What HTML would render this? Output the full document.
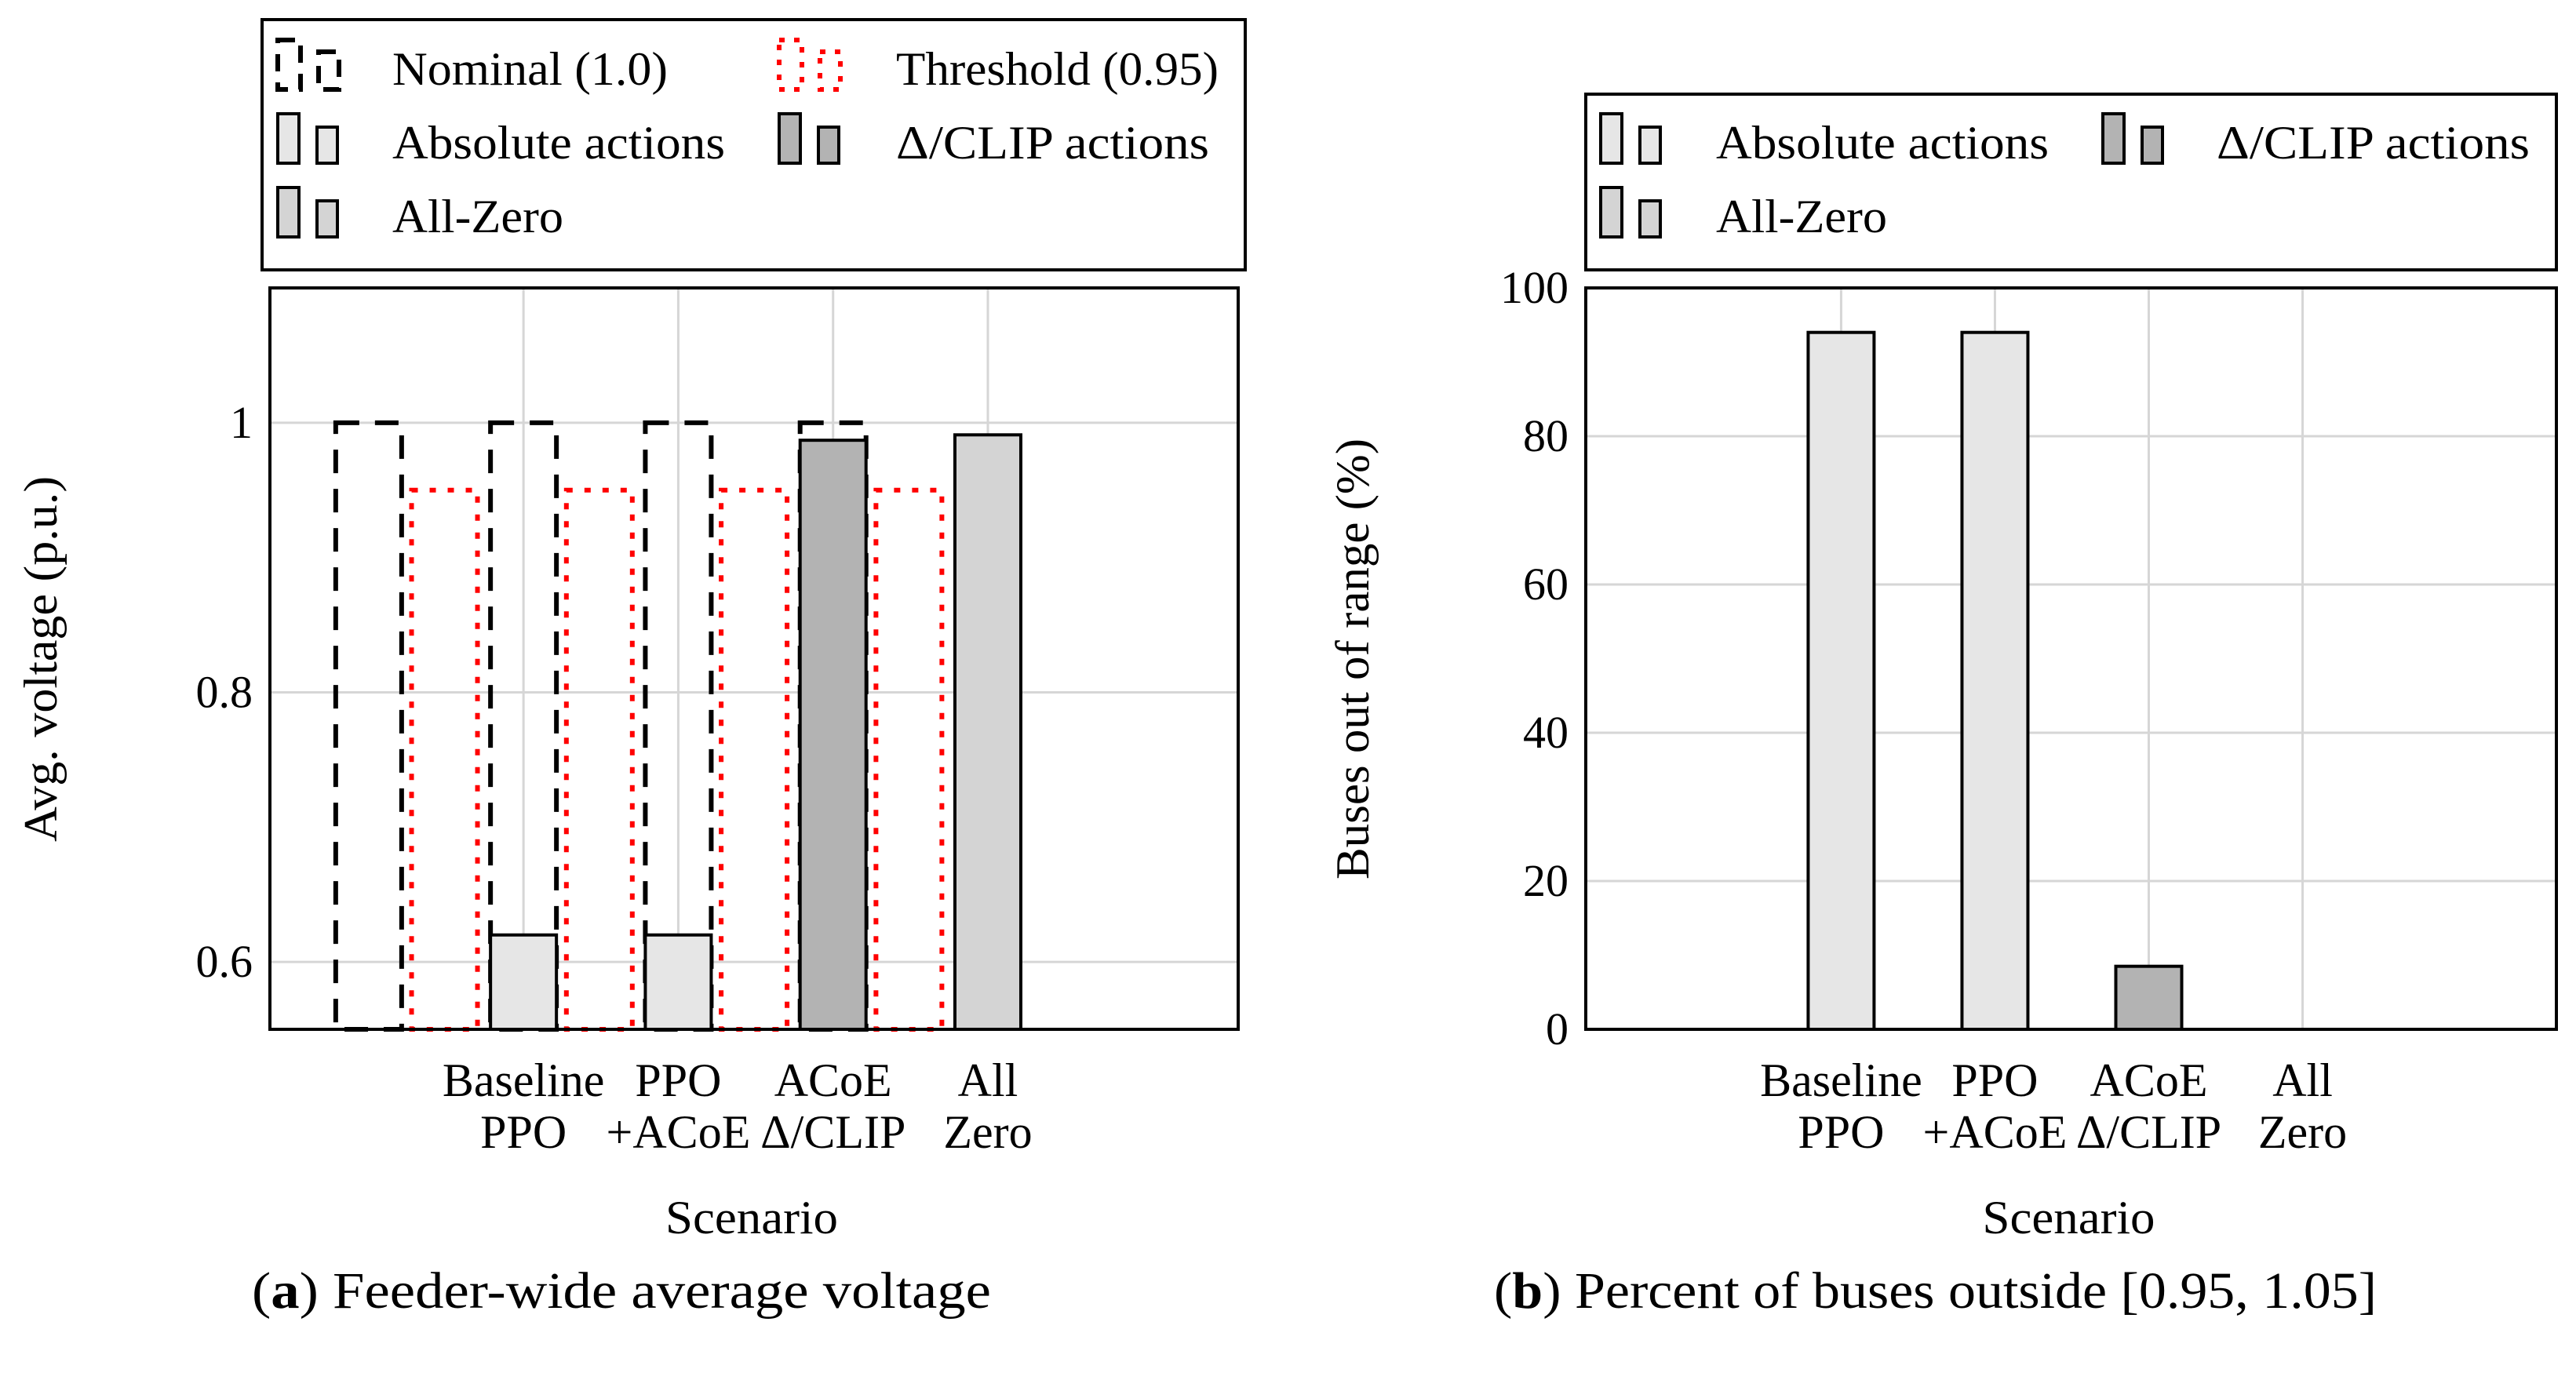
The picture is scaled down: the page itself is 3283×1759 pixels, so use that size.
<!DOCTYPE html>
<html><head><meta charset="utf-8">
<style>
html,body{margin:0;padding:0;background:#fff;}
svg{display:block;}
text{font-family:"Liberation Serif",serif;fill:#000;}
</style></head>
<body>
<svg id="fig" width="3283" height="1759" viewBox="0 0 3283 1759" xmlns="http://www.w3.org/2000/svg">
<g id="left"></g>
<g id="right"></g>
</svg>
<script>
const categories = [["Baseline","PPO"],["PPO","+ACoE"],["ACoE","Δ/CLIP"],["All","Zero"]];
const seriesKind = ["abs","abs","delta","zero"];
const voltageValues = [0.62, 0.62, 0.987, 0.991];
const nominalValues = [1.0, 1.0, 1.0, 1.0];
const thresholdValues = [0.95, 0.95, 0.95, 0.95];
const outOfRangeValues = [94, 94, 8.5, 0];
const leftTicks = [0.6, 0.8, 1];
const leftTickLabels = ["0.6", "0.8", "1"];
const rightTicks = [0, 20, 40, 60, 80, 100];
const rightTickLabels = ["0", "20", "40", "60", "80", "100"];

const NS = "http://www.w3.org/2000/svg";
const fills = {abs:"#e6e6e6", delta:"#b3b3b3", zero:"#d4d4d4"};
function mk(parent, tag, attrs, txt){
  const e = document.createElementNS(NS, tag);
  for (const k in attrs) e.setAttribute(k, attrs[k]);
  if (txt !== undefined) e.textContent = txt;
  parent.appendChild(e);
  return e;
}

function drawChart(g, cfg){
  const {x0,x1,y0,y1,xmin,xmax,ymin,ymax} = cfg;
  const xs = i => x0 + (i - xmin) / (xmax - xmin) * (x1 - x0);
  const ys = v => y1 - (v - ymin) / (ymax - ymin) * (y1 - y0);
  cfg.ticks.forEach((t, k) => {
    const y = ys(t);
    const gl = mk(g, "line", {x1:x0, x2:x1, y1:y, y2:y, stroke:"#d6d6d6", "stroke-width":3});
    
    
    const tl = mk(g, "text", {x:x0 - 22, y:y + 19, "font-size":58, "text-anchor":"end"}, cfg.tickLabels[k]);
    
    
  });
  categories.forEach((c, i) => {
    const x = xs(i);
    const gl = mk(g, "line", {x1:x, x2:x, y1:y0, y2:y1, stroke:"#d6d6d6", "stroke-width":3});
    
    
    const t1 = mk(g, "text", {x:x, y:1397, "font-size":60, "text-anchor":"middle"}, c[0]);
    
    
    const t2 = mk(g, "text", {x:x, y:1463, "font-size":60, "text-anchor":"middle"}, c[1]);
    
    
  });
  const bw = 84;
  const base = ys(Math.max(ymin, 0));
  if (cfg.withRefs){
    nominalValues.forEach((v, i) => {
      const cx = xs(i - 1.0);
      const r = mk(g, "rect", {x:cx - bw/2, y:ys(v), width:bw, height:base - ys(v), fill:"none", stroke:"#000", "stroke-width":6, "stroke-dasharray":"30 20"});
      
      
    });
    thresholdValues.forEach((v, i) => {
      const cx = xs(i - 0.51);
      const r = mk(g, "rect", {x:cx - bw/2, y:ys(v), width:bw, height:base - ys(v), fill:"none", stroke:"#ff0000", "stroke-width":6, "stroke-dasharray":"8 15"});
      
      
    });
  }
  cfg.values.forEach((v, i) => {
    const cx = xs(i);
    const h = base - ys(v);
    if (h <= 0) return;
    const r = mk(g, "rect", {x:cx - bw/2, y:ys(v), width:bw, height:h, fill:fills[seriesKind[i]], stroke:"#000", "stroke-width":4});
    
    
  });
  const fr = mk(g, "rect", {x:x0, y:y0, width:x1 - x0, height:y1 - y0, fill:"none", stroke:"#000", "stroke-width":4});
  
  
  const xt = mk(g, "text", {x:(x0 + x1)/2 - 3, y:1572, "font-size":60, "text-anchor":"middle", textLength:220, lengthAdjust:"spacingAndGlyphs"}, "Scenario");
  
  
  const yt = mk(g, "text", {x:0, y:0, "font-size":60, "text-anchor":"middle", textLength:cfg.yTitleLen, lengthAdjust:"spacingAndGlyphs", transform:"translate(" + cfg.yTitleX + "," + cfg.yTitleY + ") rotate(-90)"}, cfg.yTitle);
  
  
}

function legendIcon(g, x, yb, kind){
  if (kind === "nominal" || kind === "threshold"){
    const st = kind === "nominal" ? {stroke:"#000", "stroke-dasharray":"22 14"} : {stroke:"#ff0000", "stroke-dasharray":"7 12"};
    mk(g, "rect", Object.assign({x:x, y:yb - 63, width:29, height:63, fill:"none", "stroke-width":6}, st));
    mk(g, "rect", Object.assign({x:x + 52, y:yb - 48, width:26, height:48, fill:"none", "stroke-width":6}, st));
  } else {
    mk(g, "rect", {x:x, y:yb - 63, width:27, height:63, fill:fills[kind], stroke:"#000", "stroke-width":4});
    mk(g, "rect", {x:x + 50, y:yb - 46, width:26, height:46, fill:fills[kind], stroke:"#000", "stroke-width":4});
  }
}
function legend(parent, box, entries){
  const g = mk(parent, "g", {});
  
  
  mk(g, "rect", {x:box[0], y:box[1], width:box[2], height:box[3], fill:"#fff", stroke:"#000", "stroke-width":4});
  entries.forEach(e => {
    const eg = mk(g, "g", {});
    
    
    legendIcon(eg, e.ix, e.yb, e.kind);
    mk(eg, "text", {x:e.tx, y:e.yb - 6, "font-size":60, textLength:e.len, lengthAdjust:"spacingAndGlyphs"}, e.label);
  });
}

const L = document.getElementById("left");
drawChart(L, {x0:344, x1:1578, y0:367, y1:1312, xmin:-1.638, xmax:4.617, ymin:0.55, ymax:1.1,
  ticks:leftTicks, tickLabels:leftTickLabels, values:voltageValues, withRefs:true,
  yTitle:"Avg. voltage (p.u.)", yTitleX:72, yTitleY:840, yTitleLen:466});
legend(L, [334, 25, 1253, 319], [
  {kind:"nominal", ix:354, yb:114, tx:500, len:351, label:"Nominal (1.0)"},
  {kind:"threshold", ix:993, yb:114, tx:1142, len:411, label:"Threshold (0.95)"},
  {kind:"abs", ix:354, yb:208, tx:500, len:424, label:"Absolute actions"},
  {kind:"delta", ix:993, yb:208, tx:1142, len:399, label:"Δ/CLIP actions"},
  {kind:"zero", ix:354, yb:302, tx:500, len:218, label:"All-Zero"}
]);
const lc = mk(L, "text", {x:321, y:1667, "font-size":66, textLength:942, lengthAdjust:"spacingAndGlyphs"});


lc.innerHTML = '(<tspan font-weight="bold">a</tspan>) Feeder-wide average voltage';

const R = document.getElementById("right");
drawChart(R, {x0:2021, x1:3258, y0:367, y1:1312, xmin:-1.66, xmax:4.65, ymin:0, ymax:100,
  ticks:rightTicks, tickLabels:rightTickLabels, values:outOfRangeValues, withRefs:false,
  yTitle:"Buses out of range (%)", yTitleX:1744, yTitleY:840, yTitleLen:562});
legend(R, [2021, 120, 1237, 224], [
  {kind:"abs", ix:2040, yb:208, tx:2187, len:424, label:"Absolute actions"},
  {kind:"delta", ix:2680, yb:208, tx:2825, len:399, label:"Δ/CLIP actions"},
  {kind:"zero", ix:2040, yb:302, tx:2187, len:218, label:"All-Zero"}
]);
const rc = mk(R, "text", {x:1904, y:1667, "font-size":66, textLength:1125, lengthAdjust:"spacingAndGlyphs"});


rc.innerHTML = '(<tspan font-weight="bold">b</tspan>) Percent of buses outside [0.95, 1.05]';
</script>
</body></html>
